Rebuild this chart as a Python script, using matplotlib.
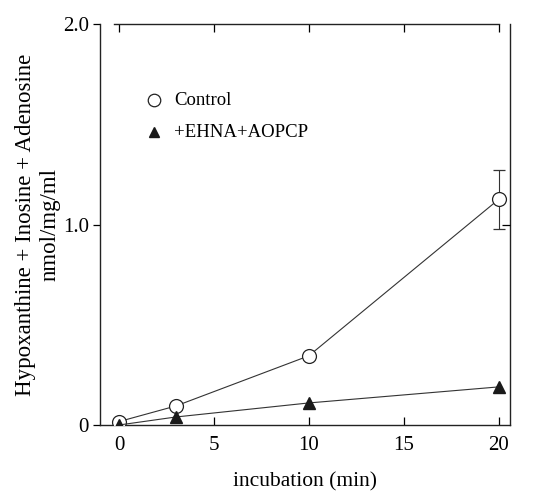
import matplotlib
matplotlib.use("Agg")
import matplotlib.pyplot as plt

# data
time_min = [0, 3, 10, 20]
control = [0.017, 0.095, 0.345, 1.125]
control_err = [0, 0, 0, 0.145]
ehna_aopcp = [0.0, 0.04, 0.11, 0.19]

x_ticks = [0, 5, 10, 15, 20]
y_ticks = [0, 1.0, 2.0]
y_ticklabels = ['0', '1.0', '2.0']

plt.rcParams['font.family'] = ['Liberation Serif', 'DejaVu Serif']

fig = plt.figure(figsize=(5.4, 4.91), dpi=100)
ax = fig.add_axes([100/540, 1 - 425/491, 410/540, 401/491])

ax.errorbar(time_min, control, yerr=control_err, color='#333333', lw=0.8,
            marker='o', ms=10, mfc='white', mec='#222222', mew=0.9,
            capsize=4, elinewidth=0.8, ecolor='#333333', zorder=3)
ax.plot(time_min, ehna_aopcp, color='#333333', lw=0.8, marker='^', ms=8,
        mfc='#1a1a1a', mec='#1a1a1a', zorder=4)

ax.set_xlim(-1.0, 20.6)
ax.set_ylim(0, 2.0)

ax.set_xticks(x_ticks)
ax.set_xticklabels([str(t) for t in x_ticks], fontsize=15)
ax.set_yticks(y_ticks)
ax.set_yticklabels(y_ticklabels, fontsize=15)

ax.tick_params(axis='x', direction='in', length=6, width=0.9, top=True, pad=8)
ax.tick_params(axis='y', direction='out', length=5, width=0.9, pad=3)
ax.tick_params(axis='y', which='both', right=False)

# right side tick at 1.0 pointing inward
ax2 = ax.twinx()
ax2.set_ylim(0, 2.0)
ax2.set_yticks([1.0])
ax2.set_yticklabels([])
ax2.tick_params(axis='y', direction='in', length=6, width=0.9)
for s in ax2.spines.values():
    s.set_visible(False)

for s in ax.spines.values():
    s.set_linewidth(1.0)
    s.set_color('#222222')
ax.spines['top'].set_bounds(-0.25, 20.0)

ax.set_xlabel('incubation (min)', fontsize=15.5, labelpad=12)
ax.set_ylabel('Hypoxanthine + Inosine + Adenosine\nnmol/mg/ml', fontsize=16.5,
              labelpad=1.5, linespacing=1.25)

# legend drawn like the original
ax.plot([1.85], [1.62], marker='o', ms=9, mfc='white', mec='#222222',
        mew=0.9, ls='none')
ax.text(2.9, 1.62, 'Control', fontsize=13.5, va='center', ha='left')
ax.plot([1.85], [1.46], marker='^', ms=7, mfc='#1a1a1a', mec='#1a1a1a',
        ls='none')
ax.text(2.9, 1.46, '+EHNA+AOPCP', fontsize=13.5, va='center', ha='left')

fig.savefig('out.png', dpi=100)
